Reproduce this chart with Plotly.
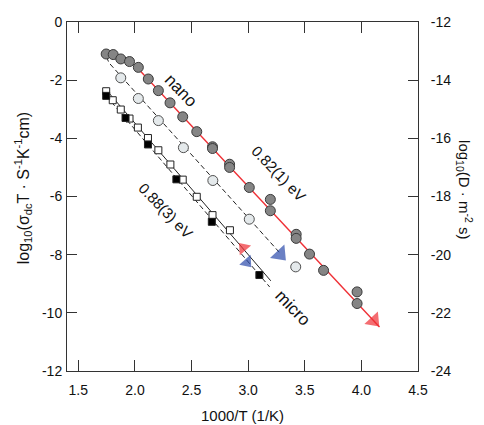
import plotly.graph_objects as go

# ---- data ----
nano_x = [1.746, 1.808, 1.875, 1.952, 2.03, 2.118, 2.207, 2.31, 2.422, 2.546,
          2.685, 2.685, 2.836, 2.836, 3.01, 3.196, 3.196, 3.424, 3.424, 3.542,
          3.666, 3.962, 3.962]
nano_y = [-1.10, -1.12, -1.27, -1.36, -1.56, -1.96, -2.36, -2.78, -3.26, -3.77,
          -4.29, -4.35, -4.89, -5.00, -5.69, -6.10, -6.49, -7.30, -7.44, -7.98,
          -8.54, -9.28, -9.68]
light_x = [1.875, 2.03, 2.207, 2.428, 2.688, 3.01, 3.42]
light_y = [-1.92, -2.63, -3.39, -4.32, -5.45, -6.78, -8.42]
micro_open_x = [1.746, 1.804, 1.875, 1.952, 2.026, 2.115, 2.207, 2.313, 2.422,
                2.546, 2.685, 2.839]
micro_open_y = [-2.38, -2.69, -3.01, -3.32, -3.63, -3.99, -4.41, -4.90, -5.42,
                -6.01, -6.64, -7.16]
micro_fill_x = [1.746, 1.917, 2.115, 2.366, 2.679, 3.099]
micro_fill_y = [-2.54, -3.30, -4.21, -5.41, -6.87, -8.70]

nano_fit_x = [2.0, 4.16]
nano_fit_y = [-1.49, -10.49]
light_fit_x = [1.75, 1.77, 3.28]
light_fit_y = [-1.20, -1.40, -7.94]
micro_solid_x = [1.75, 3.2]
micro_solid_y = [-2.35, -8.9]
micro_dash_x = [1.746, 3.19]
micro_dash_y = [-2.54, -9.11]

red_arrow_x = [4.11, 2.957]
red_arrow_y = [-10.27, -7.77]
blue_arrow_x = [3.282, 2.99]
blue_arrow_y = [-7.99, -8.26]

x_ticks = [1.5, 2.0, 2.5, 3.0, 3.5, 4.0, 4.5]
y_left_ticks = [0, -2, -4, -6, -8, -10, -12]
y_right_ticks = [-12, -14, -16, -18, -20, -22, -24]

RED = "#ef2f35"
BLUE = "#2b4aab"
FONT = "Liberation Sans, Arial, sans-serif"

fig = go.Figure()

# lines
fig.add_trace(go.Scatter(x=nano_fit_x, y=nano_fit_y, mode="lines",
                         line=dict(color=RED, width=1.4), showlegend=False))
fig.add_trace(go.Scatter(x=light_fit_x, y=light_fit_y, mode="lines",
                         line=dict(color="#222", width=1, dash="5px,3px"), showlegend=False))
fig.add_trace(go.Scatter(x=micro_solid_x, y=micro_solid_y, mode="lines",
                         line=dict(color="#222", width=1), showlegend=False))
fig.add_trace(go.Scatter(x=micro_dash_x, y=micro_dash_y, mode="lines",
                         line=dict(color="#222", width=1, dash="5px,3px"), showlegend=False))

# markers
fig.add_trace(go.Scatter(x=nano_x, y=nano_y, mode="markers",
                         marker=dict(symbol="circle", size=10, color="#858585",
                                     line=dict(color="#3a3a3a", width=1)),
                         showlegend=False))
fig.add_trace(go.Scatter(x=light_x, y=light_y, mode="markers",
                         marker=dict(symbol="circle", size=10, color="#e4e9eb",
                                     line=dict(color="#505050", width=1)),
                         showlegend=False))
fig.add_trace(go.Scatter(x=micro_open_x, y=micro_open_y, mode="markers",
                         marker=dict(symbol="square", size=7, color="white",
                                     line=dict(color="#222", width=1)),
                         showlegend=False))
fig.add_trace(go.Scatter(x=micro_fill_x, y=micro_fill_y, mode="markers",
                         marker=dict(symbol="square", size=7, color="black",
                                     line=dict(color="#222", width=1)),
                         showlegend=False))

# arrowheads
fig.add_trace(go.Scatter(x=red_arrow_x, y=red_arrow_y, mode="markers",
                         marker=dict(symbol="triangle-right", size=[16, 13], color=RED,
                                     angle=[47, 229], line=dict(width=0)),
                         showlegend=False))
fig.add_trace(go.Scatter(x=blue_arrow_x, y=blue_arrow_y, mode="markers",
                         marker=dict(symbol="triangle-right", size=[17, 13], color=BLUE,
                                     angle=[47, 49], line=dict(width=0)),
                         showlegend=False))

# hidden trace for right axis
fig.add_trace(go.Scatter(x=[None], y=[None], yaxis="y2", showlegend=False))

axis_common = dict(showline=True, linecolor="#333", linewidth=1, ticks="inside",
                   tickcolor="#333", showgrid=False, zeroline=False,
                   tickfont=dict(family=FONT, size=14, color="#111"))

fig.update_layout(
    width=484, height=425,
    margin=dict(l=67, r=66, t=22, b=54),
    paper_bgcolor="white", plot_bgcolor="white",
    xaxis=dict(range=[1.4, 4.5], tickvals=x_ticks,
               ticktext=[f"{v:.1f}" for v in x_ticks], ticklen=11,
               ticklabelstandoff=6, mirror="ticks", **axis_common),
    yaxis=dict(range=[-12, 0], tickvals=y_left_ticks,
               ticktext=[str(v) for v in y_left_ticks], ticklen=10,
               ticklabelstandoff=1, **axis_common),
    yaxis2=dict(range=[-24, -12], tickvals=y_right_ticks,
                ticktext=[str(v) for v in y_right_ticks], ticklen=10,
                ticklabelstandoff=9, overlaying="y", side="right", **axis_common),
    annotations=[
        dict(text="1000/T (1/K)", x=0.5, y=-0.128, xref="paper", yref="paper",
             showarrow=False, yanchor="middle",
             font=dict(family=FONT, size=15, color="#111")),
        dict(text="log<sub>10</sub>(σ<sub>dc</sub>T · S<sup>-1</sup>K<sup>-1</sup>cm)",
             x=-0.162, y=0.524, xref="paper", yref="paper", showarrow=False,
             textangle=-90, font=dict(family=FONT, size=16, color="#111")),
        dict(text="log<sub>10</sub>(D · m<sup>-2</sup> s)",
             x=1.168, y=0.52, xref="paper", yref="paper", showarrow=False,
             textangle=90, font=dict(family=FONT, size=15, color="#111")),
        dict(text="nano", x=2.405, y=-2.35, showarrow=False, textangle=46,
             font=dict(family=FONT, size=17, color="#111")),
        dict(text="0.82(1) eV", x=3.273, y=-5.2, showarrow=False, textangle=46,
             font=dict(family=FONT, size=15, color="#111")),
        dict(text="0.88(3) eV", x=2.273, y=-6.47, showarrow=False, textangle=46,
             font=dict(family=FONT, size=15, color="#111")),
        dict(text="micro", x=3.40, y=-9.84, showarrow=False, textangle=46,
             font=dict(family=FONT, size=17, color="#111")),
    ],
)

fig.write_html("out.html", config={"displayModeBar": False},
               post_script="document.body.style.margin='0';")
